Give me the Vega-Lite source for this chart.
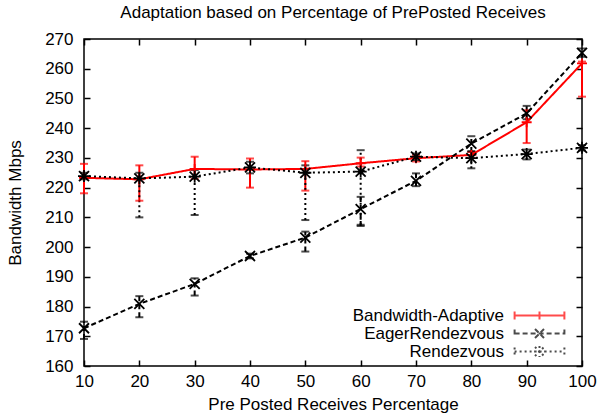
{
  "$schema": "https://vega.github.io/schema/vega-lite/v6.json",
  "autosize": {"type": "none"},
  "width": 498,
  "height": 327,
  "padding": {"left": 84, "top": 39, "right": 17, "bottom": 50},
  "background": "white",
  "title": {"text": "Adaptation based on Percentage of PrePosted Receives", "font": "Liberation Sans", "fontSize": 17, "fontWeight": "normal", "color": "black", "offset": 8, "anchor": "middle"},
  "config": {
    "view": {"stroke": "black", "strokeWidth": 1.5},
    "axis": {"labelFont": "Liberation Sans", "labelFontSize": 17, "labelColor": "black", "titleFont": "Liberation Sans", "titleFontSize": 17, "titleFontWeight": "normal", "titleColor": "black", "domain": false, "ticks": true, "tickColor": "black", "tickWidth": 1.5, "tickSize": 6, "offset": -6, "grid": false, "labelOverlap": false, "labelFlush": false},
    "axisX": {"labelPadding": 7, "titlePadding": 7},
    "axisY": {"labelPadding": 11, "titlePadding": 20}
  },
  "data": {"values": [
    {"x": 10, "s": "Bandwidth-Adaptive", "y": 223.3, "lo": 218.1, "hi": 228.0},
    {"x": 20, "s": "Bandwidth-Adaptive", "y": 222.8, "lo": 215.6, "hi": 227.5},
    {"x": 30, "s": "Bandwidth-Adaptive", "y": 226.3, "lo": 223.0, "hi": 230.4},
    {"x": 40, "s": "Bandwidth-Adaptive", "y": 226.1, "lo": 220.0, "hi": 229.8},
    {"x": 50, "s": "Bandwidth-Adaptive", "y": 226.3, "lo": 219.0, "hi": 228.9},
    {"x": 60, "s": "Bandwidth-Adaptive", "y": 228.2, "lo": 227.1, "hi": 230.1},
    {"x": 70, "s": "Bandwidth-Adaptive", "y": 229.9, "lo": 228.8, "hi": 231.0},
    {"x": 80, "s": "Bandwidth-Adaptive", "y": 231.0, "lo": 230.0, "hi": 232.0},
    {"x": 90, "s": "Bandwidth-Adaptive", "y": 242.0, "lo": 235.0, "hi": 246.0},
    {"x": 100, "s": "Bandwidth-Adaptive", "y": 261.8, "lo": 250.6, "hi": 262.4},
    {"x": 10, "s": "EagerRendezvous", "y": 172.7, "lo": 169.1, "hi": 174.9},
    {"x": 20, "s": "EagerRendezvous", "y": 180.9, "lo": 176.4, "hi": 183.5},
    {"x": 30, "s": "EagerRendezvous", "y": 187.6, "lo": 183.7, "hi": 189.5},
    {"x": 40, "s": "EagerRendezvous", "y": 197.0, "lo": 196.2, "hi": 197.8},
    {"x": 50, "s": "EagerRendezvous", "y": 203.2, "lo": 198.5, "hi": 205.2},
    {"x": 60, "s": "EagerRendezvous", "y": 212.8, "lo": 207.1, "hi": 216.9},
    {"x": 70, "s": "EagerRendezvous", "y": 222.3, "lo": 220.5, "hi": 224.8},
    {"x": 80, "s": "EagerRendezvous", "y": 234.8, "lo": 232.0, "hi": 237.3},
    {"x": 90, "s": "EagerRendezvous", "y": 245.0, "lo": 243.0, "hi": 247.5},
    {"x": 100, "s": "EagerRendezvous", "y": 265.3, "lo": 264.0, "hi": 266.8},
    {"x": 10, "s": "Rendezvous", "y": 223.9, "lo": 222.8, "hi": 225.0},
    {"x": 20, "s": "Rendezvous", "y": 223.1, "lo": 210.0, "hi": 225.0},
    {"x": 30, "s": "Rendezvous", "y": 223.7, "lo": 210.8, "hi": 225.9},
    {"x": 40, "s": "Rendezvous", "y": 226.8, "lo": 224.8, "hi": 228.7},
    {"x": 50, "s": "Rendezvous", "y": 225.0, "lo": 209.1, "hi": 227.5},
    {"x": 60, "s": "Rendezvous", "y": 225.4, "lo": 207.5, "hi": 232.6},
    {"x": 70, "s": "Rendezvous", "y": 230.4, "lo": 229.3, "hi": 231.5},
    {"x": 80, "s": "Rendezvous", "y": 229.9, "lo": 226.5, "hi": 232.3},
    {"x": 90, "s": "Rendezvous", "y": 231.3, "lo": 229.5, "hi": 232.8},
    {"x": 100, "s": "Rendezvous", "y": 233.4, "lo": 232.5, "hi": 234.3}
  ]},
  "layer": [
    {
      "encoding": {
        "x": {"field": "x", "type": "quantitative", "scale": {"domain": [10, 100], "nice": false, "zero": false}, "axis": {"values": [10, 20, 30, 40, 50, 60, 70, 80, 90, 100], "title": "Pre Posted Receives Percentage", "orient": "bottom", "labelOverlap": false}},
        "y": {"field": "y", "type": "quantitative", "scale": {"domain": [160, 270], "nice": false, "zero": false}, "axis": {"values": [160, 170, 180, 190, 200, 210, 220, 230, 240, 250, 260, 270], "title": "Bandwidth Mbps", "orient": "left", "labelOverlap": false}},
        "color": {"field": "s", "type": "nominal", "scale": {"domain": ["Bandwidth-Adaptive", "EagerRendezvous", "Rendezvous"], "range": ["#ff0000", "#000000", "#000000"]},
          "legend": {"orient": "none", "legendX": 447, "legendY": 268, "title": null, "labelAlign": "right", "labelOffset": -44, "labelLimit": 0, "labelFont": "Liberation Sans", "labelFontSize": 17, "labelColor": "black", "symbolSize": 36, "symbolStrokeWidth": 2, "symbolFillColor": "transparent", "rowPadding": 0}}
      },
      "layer": [
        {"mark": {"type": "rule", "strokeWidth": 2},
         "encoding": {"y": {"field": "lo", "type": "quantitative", "scale": {"domain": [160, 270], "nice": false, "zero": false}, "axis": {"values": [160, 170, 180, 190, 200, 210, 220, 230, 240, 250, 260, 270], "title": "Bandwidth Mbps", "orient": "left", "labelOverlap": false}}, "y2": {"field": "hi"},
           "strokeDash": {"field": "s", "type": "nominal", "scale": {"domain": ["Bandwidth-Adaptive", "EagerRendezvous", "Rendezvous"], "range": [[1, 0], [5, 3], [2, 3]]}}}},
        {"mark": {"type": "tick", "orient": "horizontal", "size": 8, "thickness": 2},
         "encoding": {"y": {"field": "lo", "type": "quantitative", "scale": {"domain": [160, 270], "nice": false, "zero": false}, "axis": {"values": [160, 170, 180, 190, 200, 210, 220, 230, 240, 250, 260, 270], "title": "Bandwidth Mbps", "orient": "left", "labelOverlap": false}}}},
        {"mark": {"type": "tick", "orient": "horizontal", "size": 8, "thickness": 2},
         "encoding": {"y": {"field": "hi", "type": "quantitative", "scale": {"domain": [160, 270], "nice": false, "zero": false}, "axis": {"values": [160, 170, 180, 190, 200, 210, 220, 230, 240, 250, 260, 270], "title": "Bandwidth Mbps", "orient": "left", "labelOverlap": false}}}},
        {"mark": {"type": "line", "strokeWidth": 2},
         "encoding": {"strokeDash": {"field": "s", "type": "nominal"}}},
        {"transform": [{"filter": "datum.s === 'Bandwidth-Adaptive'"}],
         "mark": {"type": "point", "filled": false, "strokeWidth": 1.8, "size": 100, "opacity": 1, "shape": "M-1,0H1M0,-1V1"}},
        {"transform": [{"filter": "datum.s === 'EagerRendezvous'"}],
         "mark": {"type": "point", "filled": false, "strokeWidth": 1.8, "size": 100, "opacity": 1, "shape": "M-1,-1L1,1M-1,1L1,-1"}},
        {"transform": [{"filter": "datum.s === 'Rendezvous'"}],
         "mark": {"type": "point", "filled": false, "strokeWidth": 1.8, "size": 100, "opacity": 1, "shape": "M-1,-1L1,1M-1,1L1,-1M-1.2,0H1.2M0,-1.2V1.2"}},
        {"transform": [{"filter": "false"}],
         "mark": {"type": "point", "filled": false, "strokeWidth": 2},
         "encoding": {
           "shape": {"field": "s", "type": "nominal", "scale": {"domain": ["Bandwidth-Adaptive", "EagerRendezvous", "Rendezvous"], "range": ["M-8.3,0H8.3M-8.3,-1.3V1.3M8.3,-1.3V1.3M0,-1.3V1.3", "M-8.3,0H8.3M-8.3,-1.3V1.3M8.3,-1.3V1.3M-1.5,-1.5L1.5,1.5M-1.5,1.5L1.5,-1.5", "M-8.3,0H8.3M-8.3,-1.3V1.3M8.3,-1.3V1.3M-1.5,-1.5L1.5,1.5M-1.5,1.5L1.5,-1.5M-1.8,0H1.8M0,-1.8V1.8"]}}}}
      ]
    },
    {
      "mark": {"type": "point", "opacity": 0},
      "encoding": {
        "x": {"field": "x", "type": "quantitative", "axis": {"orient": "top", "labels": false, "title": null, "values": [10, 20, 30, 40, 50, 60, 70, 80, 90, 100]}},
        "y": {"field": "y", "type": "quantitative", "axis": {"orient": "right", "labels": false, "title": null, "values": [160, 170, 180, 190, 200, 210, 220, 230, 240, 250, 260, 270]}}
      }
    }
  ],
  "resolve": {"axis": {"x": "independent", "y": "independent"}}
}
